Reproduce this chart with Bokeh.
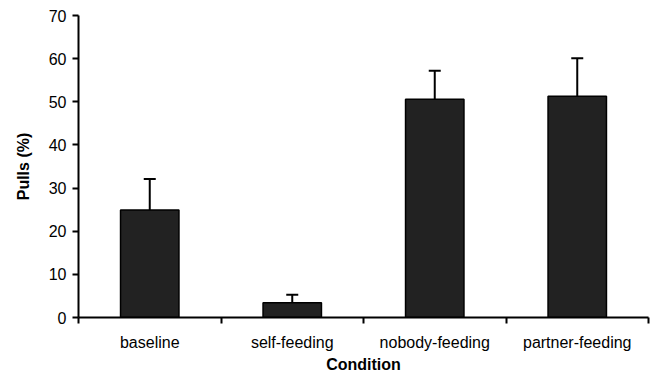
from bokeh.plotting import figure
from bokeh.models import Range1d, FixedTicker, Whisker, TeeHead, ColumnDataSource
from bokeh.embed import file_html
from bokeh.resources import INLINE

categories = ["baseline", "self-feeding", "nobody-feeding", "partner-feeding"]
pulls = [24.9, 3.4, 50.6, 51.3]
sem = [7.2, 1.9, 6.6, 8.8]
y_ticks = [0, 10, 20, 30, 40, 50, 60, 70]

xs = [i + 0.5 for i in range(len(categories))]
tops = [v + e for v, e in zip(pulls, sem)]
src = ColumnDataSource(dict(x=xs, top=pulls, upper=tops, lower=pulls))

p = figure(frame_width=570, frame_height=302, output_backend="svg", toolbar_location=None,
           x_range=Range1d(0, len(categories)), y_range=Range1d(0, 70),
           min_border_left=78, min_border_right=4, min_border_top=15, min_border_bottom=46)
p.outline_line_color = None
p.xgrid.visible = False
p.ygrid.visible = False

p.add_layout(Whisker(source=src, base="x", upper="upper", lower="lower",
                     line_color="black", line_width=2, lower_head=None,
                     upper_head=TeeHead(size=12, line_color="black", line_width=2)))
p.vbar(x="x", top="top", width=0.41, bottom=0, source=src,
       fill_color="#222222", line_color="black", line_width=1.5)

font = "Liberation Sans"
xa = p.xaxis[0]
xa.ticker = FixedTicker(ticks=xs, minor_ticks=list(range(len(categories) + 1)))
xa.major_label_overrides = {x: c for x, c in zip(xs, categories)}
xa.major_tick_out = 0
xa.major_tick_in = 0
xa.minor_tick_out = 6
xa.minor_tick_in = 0
xa.minor_tick_line_color = "black"
xa.minor_tick_line_width = 2
xa.axis_line_width = 2
xa.axis_line_color = "black"
xa.axis_label = "Condition"
xa.major_label_standoff = 10
xa.axis_label_standoff = 2

ya = p.yaxis[0]
ya.ticker = FixedTicker(ticks=y_ticks, minor_ticks=[])
ya.major_tick_out = 6
ya.major_tick_in = 0
ya.major_tick_line_width = 2
ya.major_tick_line_color = "black"
ya.axis_line_width = 2
ya.axis_line_color = "black"
ya.axis_label = "Pulls (%)"
ya.major_label_standoff = 6
ya.axis_label_standoff = 14

for ax in (xa, ya):
    ax.major_label_text_font = font
    ax.major_label_text_font_size = "16px"
    ax.major_label_text_color = "black"
    ax.axis_label_text_font = font
    ax.axis_label_text_font_size = "16px"
    ax.axis_label_text_font_style = "bold"
    ax.axis_label_text_color = "black"

open("out.html", "w").write(file_html(p, INLINE))
